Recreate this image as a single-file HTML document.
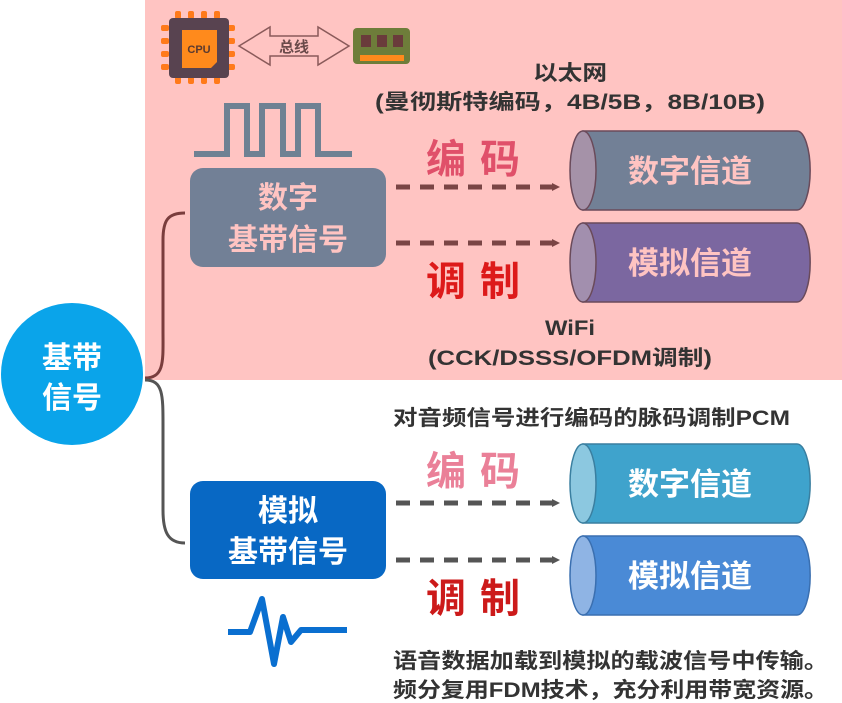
<!DOCTYPE html>
<html><head><meta charset="utf-8"><style>
html,body{margin:0;padding:0;background:#fff;}
svg{display:block;font-family:"Liberation Sans","Noto Sans CJK SC",sans-serif;font-weight:bold;}
</style></head><body>
<svg width="842" height="703" viewBox="0 0 842 703" xmlns="http://www.w3.org/2000/svg">
<defs>
<marker id="ah" markerWidth="8" markerHeight="8" refX="6" refY="4" orient="auto" markerUnits="userSpaceOnUse"><path d="M0,0 L8,4 L0,8 Z" fill="#7a4545"/></marker>
<marker id="ag" markerWidth="8" markerHeight="8" refX="6" refY="4" orient="auto" markerUnits="userSpaceOnUse"><path d="M0,0 L8,4 L0,8 Z" fill="#555"/></marker>
</defs>
<rect x="145" y="0" width="697" height="380" fill="#ffc4c2"/>
<g>
<g fill="#ff7a1a">
<rect x="175" y="11" width="6" height="8" rx="2"/><rect x="188" y="11" width="6" height="8" rx="2"/><rect x="201" y="11" width="6" height="8" rx="2"/><rect x="214" y="11" width="6" height="8" rx="2"/>
<rect x="175" y="76" width="6" height="8" rx="2"/><rect x="188" y="76" width="6" height="8" rx="2"/><rect x="201" y="76" width="6" height="8" rx="2"/><rect x="214" y="76" width="6" height="8" rx="2"/>
<rect x="161" y="25" width="8" height="6" rx="2"/><rect x="161" y="38" width="8" height="6" rx="2"/><rect x="161" y="51" width="8" height="6" rx="2"/><rect x="161" y="64" width="8" height="6" rx="2"/>
<rect x="227" y="25" width="8" height="6" rx="2"/><rect x="227" y="38" width="8" height="6" rx="2"/><rect x="227" y="51" width="8" height="6" rx="2"/><rect x="227" y="64" width="8" height="6" rx="2"/>
</g>
<rect x="169" y="18" width="60" height="60" rx="4" fill="#584350"/>
<path d="M182,30 H217 V62 L211,68 H182 Z" fill="#ff8a1c"/>
<text x="199" y="53" font-size="11" text-anchor="middle" fill="#5a3a30">CPU</text>
</g>
<path d="M239,46 L270,27 V36 H318 V27 L349,46 L318,65 V56 H270 V65 Z" fill="none" stroke="#8a5a5a" stroke-width="1.5"/>
<text x="294" y="52" font-size="15" text-anchor="middle" fill="#6a4a4a">总线</text>
<rect x="353" y="28" width="57" height="36" rx="4" fill="#6e7d3a"/>
<rect x="361" y="35" width="10" height="12" fill="#6a3b3b"/><rect x="377" y="35" width="10" height="12" fill="#6a3b3b"/><rect x="393" y="35" width="10" height="12" fill="#6a3b3b"/>
<rect x="360" y="55" width="44" height="6" fill="#ff8a1c"/>
<path d="M194,154 H227 V106 H247 V154 H262 V106 H283 V154 H298 V106 H318 V154 H352" fill="none" stroke="#6f8193" stroke-width="6"/>
<circle cx="72" cy="374" r="71" fill="#0aa4ea"/>
<text x="72" y="368" font-size="30" text-anchor="middle" fill="#fff">基带</text>
<text x="72" y="408" font-size="30" text-anchor="middle" fill="#fff">信号</text>
<path d="M145,378 C165,378 163,360 163,330 V240 C163,220 168,213 185,213" fill="none" stroke="#7a3d3d" stroke-width="3"/>
<path d="M145,380 C163,380 163,395 163,425 V510 C163,532 168,543 185,543" fill="none" stroke="#555" stroke-width="3"/>
<rect x="190" y="168" width="196" height="99" rx="13" fill="#728096"/>
<text x="288" y="208" font-size="30" text-anchor="middle" fill="#ffc4c2">数字</text>
<text x="288" y="250" font-size="30" text-anchor="middle" fill="#ffc4c2">基带信号</text>
<rect x="190" y="481" width="196" height="98" rx="13" fill="#0868c4"/>
<text x="288" y="521" font-size="30" text-anchor="middle" fill="#fff">模拟</text>
<text x="288" y="562" font-size="30" text-anchor="middle" fill="#fff">基带信号</text>
<g stroke-width="5" stroke-dasharray="14,10">
<line x1="396" y1="187" x2="558" y2="187" stroke="#7a4545" marker-end="url(#ah)"/>
<line x1="396" y1="243" x2="558" y2="243" stroke="#7a4545" marker-end="url(#ah)"/>
<line x1="396" y1="503" x2="558" y2="503" stroke="#555" marker-end="url(#ag)"/>
<line x1="396" y1="560" x2="558" y2="560" stroke="#555" marker-end="url(#ag)"/>
</g>
<g stroke-width="1.5">
<path d="M583,131 H797 A13,39 0 0 1 797,210 H583 Z" fill="#728096" stroke="#6a4a5a"/>
<ellipse cx="583" cy="170.5" rx="13" ry="39.5" fill="#a592a8" stroke="#6a4a5a"/>
<path d="M583,223 H797 A13,39 0 0 1 797,302 H583 Z" fill="#7b67a0" stroke="#6a4a5a"/>
<ellipse cx="583" cy="262.5" rx="13" ry="39.5" fill="#a28fae" stroke="#6a4a5a"/>
<path d="M583,444 H797 A13,39 0 0 1 797,523 H583 Z" fill="#3fa3cc" stroke="#3a7fa0"/>
<ellipse cx="583" cy="483.5" rx="13" ry="39.5" fill="#8cc8e0" stroke="#3a7fa0"/>
<path d="M583,536 H797 A13,39 0 0 1 797,615 H583 Z" fill="#4a8ad6" stroke="#3a6fb0"/>
<ellipse cx="583" cy="575.5" rx="13" ry="39.5" fill="#8fb4e4" stroke="#3a6fb0"/>
</g>
<g font-size="31" text-anchor="middle">
<text x="690" y="182" fill="#ffc4c2">数字信道</text>
<text x="690" y="274" fill="#ffc4c2">模拟信道</text>
<text x="690" y="495" fill="#fff">数字信道</text>
<text x="690" y="587" fill="#fff">模拟信道</text>
</g>
<g font-size="40" text-anchor="middle">
<text x="480" y="173" fill="#e0506a" letter-spacing="14">编码</text>
<text x="480" y="295" fill="#dd1a1a" letter-spacing="14">调制</text>
<text x="480" y="485" fill="#ea8098" letter-spacing="14">编码</text>
<text x="480" y="612" fill="#cc1a1a" letter-spacing="14">调制</text>
</g>
<g font-size="21" fill="#333" lengthAdjust="spacingAndGlyphs">
<text x="533" y="80" textLength="74" lengthAdjust="spacingAndGlyphs">以太网</text>
<text x="375" y="109" textLength="390" lengthAdjust="spacingAndGlyphs">(曼彻斯特编码，4B/5B，8B/10B)</text>
<text x="545" y="335" textLength="50" lengthAdjust="spacingAndGlyphs">WiFi</text>
<text x="428" y="365" textLength="284" lengthAdjust="spacingAndGlyphs">(CCK/DSSS/OFDM调制)</text>
<text x="393" y="425" textLength="397" lengthAdjust="spacingAndGlyphs">对音频信号进行编码的脉码调制PCM</text>
<text x="393" y="668" textLength="435" lengthAdjust="spacingAndGlyphs">语音数据加载到模拟的载波信号中传输。</text>
<text x="393" y="697" textLength="435" lengthAdjust="spacingAndGlyphs">频分复用FDM技术，充分利用带宽资源。</text>
</g>
<path d="M228,632 H250 L262,599 L274,664 L283,617 L291,642 L301,630 H347" fill="none" stroke="#0a6fd0" stroke-width="6" stroke-linejoin="round"/>
</svg>
</body></html>
